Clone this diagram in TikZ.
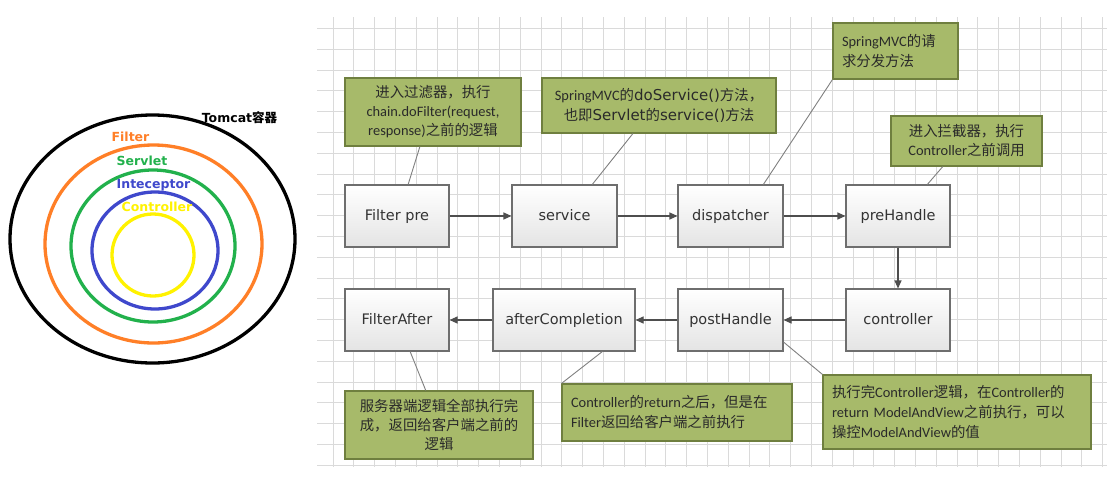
\documentclass[tikz,border=0pt]{standalone}
\usepackage{fontspec}
\setmainfont{Carlito}
\newfontfamily\cjkf{Noto Sans CJK SC}
\newfontfamily\boxf{DejaVu Sans}
\usetikzlibrary{arrows.meta,calc,shadows}
\newcommand\zhs[1]{{\cjkf #1}}
\newcommand\vds[1]{{\boxf\fontsize{15}{19}\selectfont #1}}
\definecolor{gridc}{HTML}{DADADA}
\definecolor{boxbot}{HTML}{E4E4E4}
\definecolor{boxdraw}{HTML}{6E6E6E}
\definecolor{boxtxt}{HTML}{333333}
\definecolor{notefill}{HTML}{A7BA6A}
\definecolor{notedraw}{HTML}{6F7F3F}
\definecolor{notetxt}{HTML}{2A2A2A}
\definecolor{arrowc}{HTML}{4E4E4E}
\definecolor{linkc}{HTML}{808080}
\definecolor{corange}{HTML}{FF7F27}
\definecolor{cgreen}{HTML}{22B14C}
\definecolor{cblue}{HTML}{3F48CC}
\definecolor{cyellow}{HTML}{FFF200}
\begin{document}
\begin{tikzpicture}[x=1pt,y=-1pt,
  gridline/.style={draw=gridc, line width=0.8pt},
  ring/.style={line width=3.3pt},
  ringlabel/.style={font=\boxf\bfseries\fontsize{12.5}{14}\selectfont, inner sep=0pt},
  flowbox/.style={draw=boxdraw, line width=1.1pt, top color=white, bottom color=boxbot,
    minimum height=62pt, inner sep=0pt, text=boxtxt, text height=12.4pt, text depth=3pt,
    font=\boxf\fontsize{14.5}{17}\selectfont,
    drop shadow={shadow xshift=1.3pt, shadow yshift=-1.3pt, opacity=0.3, fill=black}},
  note/.style={draw=notedraw, line width=1.1pt, fill=notefill, inner xsep=9pt, inner ysep=0pt,
    text=notetxt, font=\fontsize{14.4}{19}\selectfont,
    drop shadow={shadow xshift=1.3pt, shadow yshift=-1.3pt, opacity=0.3, fill=black}},
  flowarrow/.style={draw=arrowc, line width=1.1pt, -{Triangle[length=8pt,width=7pt]}},
  link/.style={draw=linkc, line width=0.9pt}
]
\useasboundingbox (0,0) rectangle (1107,482);
\fill[white] (0,0) rectangle (1107,482);
% grid
\foreach \i in {0,...,37} \draw[gridline] ({333+20.8*\i},17) -- ({333+20.8*\i},467);
\foreach \j in {0,...,21} \draw[gridline] (317,{28.3+20.8*\j}) -- (1107,{28.3+20.8*\j});

% nested containers
\draw[ring, black]   (152.5,239) ellipse [x radius=142.5pt, y radius=124pt];
\draw[ring, corange] (153.5,244) ellipse [x radius=108.5pt, y radius=99pt];
\draw[ring, cgreen]  (153,246)   ellipse [x radius=82pt, y radius=76pt];
\draw[ring, cblue]   (155,250.5) ellipse [x radius=63pt, y radius=58.5pt];
\draw[ring, cyellow] (153,255)   ellipse [x radius=41pt, y radius=41pt];
\node[ringlabel, text=black]   (ltomcat) at (239.5,118) {Tomcat\zhs{\bfseries 容器}};
\node[ringlabel, text=corange] (lfilter) at (130.5,137) {Filter};
\node[ringlabel, text=cgreen]  (lservlet) at (142,161) {Servlet};
\node[ringlabel, text=cblue]   (linter) at (153.5,185) {Inteceptor};
\node[ringlabel, text=cyellow] (lctrl) at (157,207) {Controller};

% flow boxes
\node[flowbox, minimum width=104pt] (fpre)   at (397,216)   {Filter pre};
\node[flowbox, minimum width=105pt] (serv)   at (564.5,216) {service};
\node[flowbox, minimum width=105pt] (disp)   at (730.5,216) {dispatcher};
\node[flowbox, minimum width=104pt] (preh)   at (898,216)   {preHandle};
\node[flowbox, minimum width=104pt] (ctrl)   at (898,320)   {controller};
\node[flowbox, minimum width=105pt] (posth)  at (730.5,320) {postHandle};
\node[flowbox, minimum width=142pt] (afterc) at (564,320)   {afterCompletion};
\node[flowbox, minimum width=104pt] (fafter) at (397,320)   {FilterAfter};

\draw[flowarrow] (fpre) -- (serv);
\draw[flowarrow] (serv) -- (disp);
\draw[flowarrow] (disp) -- (preh);
\draw[flowarrow] (preh) -- (ctrl);
\draw[flowarrow] (ctrl) -- (posth);
\draw[flowarrow] (posth) -- (afterc);
\draw[flowarrow] (afterc) -- (fafter);

% notes
\node[note, minimum width=176pt, minimum height=68pt, align=center] (n1) at (433,112)
  {\zhs{进入过滤器，执行}\\chain.doFilter(request,\\response)\zhs{之前的逻辑}};
\node[note, minimum width=234pt, minimum height=55pt, align=center, font=\fontsize{14.4}{20}\selectfont] (n2) at (659,105.5)
  {SpringMVC\zhs{的}\vds{doService()}\zhs{方法，}\\\zhs{也即}\vds{Servlet}\zhs{的}\vds{service()}\zhs{方法}};
\node[note, text width=107pt, minimum height=56pt, align=left, font=\fontsize{14.4}{20}\selectfont] (n3) at (895.5,51)
  {SpringMVC\zhs{的请}\\\zhs{求分发方法}};
\node[note, minimum width=151pt, minimum height=50pt, align=center] (n4) at (966.5,141)
  {\zhs{进入拦截器，执行}\\Controller\zhs{之前调用}};
\node[note, minimum width=188pt, minimum height=68pt, align=center] (n5) at (439,425)
  {\zhs{服务器端逻辑全部执行完}\\\zhs{成，返回给客户端之前的}\\\zhs{逻辑}};
\node[note, text width=212pt, minimum height=57pt, align=left, font=\fontsize{14.4}{20}\selectfont] (n6) at (677,412.5)
  {Controller\zhs{的}return\zhs{之后，但是在}\\Filter\zhs{返回给客户端之前执行}};
\node[note, text width=250pt, minimum height=74pt, align=left, font=\fontsize{14.4}{20}\selectfont] (n7) at (957,412)
  {\zhs{执行完}Controller\zhs{逻辑，在}Controller\zhs{的}\\return ModelAndView\zhs{之前执行，可以}\\\zhs{操控}ModelAndView\zhs{的值}};

% links
\draw[link] ($(n1.south west)!0.426!(n1.south east)$) -- ($(fpre.north west)!0.606!(fpre.north east)$);
\draw[link] ($(n2.south west)!0.389!(n2.south east)$) -- ($(serv.north west)!0.762!(serv.north east)$);
\draw[link] (n3.south west) -- ($(disp.north west)!0.81!(disp.north east)$);
\draw[link] ($(n4.south west)!0.344!(n4.south east)$) -- ($(preh.north west)!0.779!(preh.north east)$);
\draw[link] ($(fafter.south west)!0.625!(fafter.south east)$) -- ($(n5.north west)!0.43!(n5.north east)$);
\draw[link] ($(afterc.south west)!0.768!(afterc.south east)$) -- (n6.north west);
\draw[link] ($(posth.north east)!0.85!(posth.south east)$) -- (n7.north west);
\end{tikzpicture}
\end{document}
